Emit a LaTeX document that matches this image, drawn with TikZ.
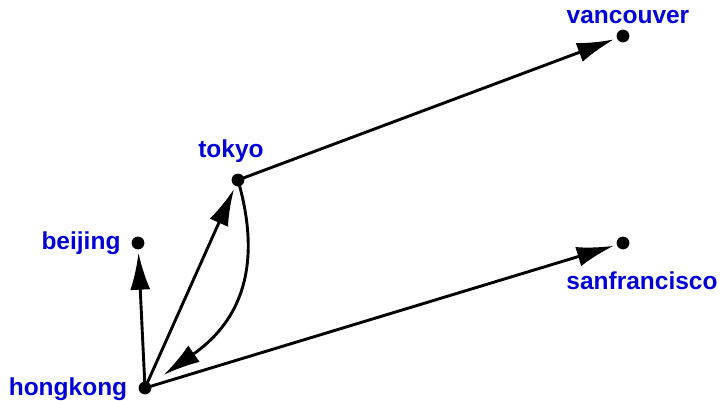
\documentclass[tikz,border=0pt]{standalone}
\usepackage{fontspec}
\setmainfont{Liberation Sans}
\usetikzlibrary{arrows.meta}
\definecolor{cityblue}{RGB}{0,0,215}
\tikzset{
  city/.style={circle,minimum size=19pt,inner sep=0pt,
    path picture={\fill (path picture bounding box.center) circle (6.4pt);}},
  cityname/.style={anchor=base,text=cityblue,font=\fontsize{24.5}{28}\selectfont\bfseries},
  flight/.style={line width=2.9pt,-{Latex[length=37pt,width=20pt]}}
}
\begin{document}
\begin{tikzpicture}[x=1pt,y=-1pt]
            \useasboundingbox(0,0)rectangle(722,400);
            \node[city](hk)at(145,388){};
            \node[city](bj)at(138,243){};
            \node[city](tk)at(238,180){};
            \node[city](vc)at(623,36){};
            \node[city](sf)at(623,243){};
            \node[cityname](hkname)at(68,395){hongkong};
            \node[cityname](bjname)at(81,249){beijing};
            \node[cityname](tkname)at(231,157){tokyo};
            \node[cityname](vcname)at(628,23){vancouver};
            \node[cityname](sfname)at(642,289){sanfrancisco};
            \draw[flight](hk.center)--(bj);
            \draw[flight](hk.center)--(tk);
            \draw[flight](hk.center)--(sf);
            \draw[flight](tk.center)--(vc);
            \draw[flight,shorten >=13pt](tk.center)to[out=-74,in=35,looseness=1.15](hk);
        \end{tikzpicture}
\end{document}
